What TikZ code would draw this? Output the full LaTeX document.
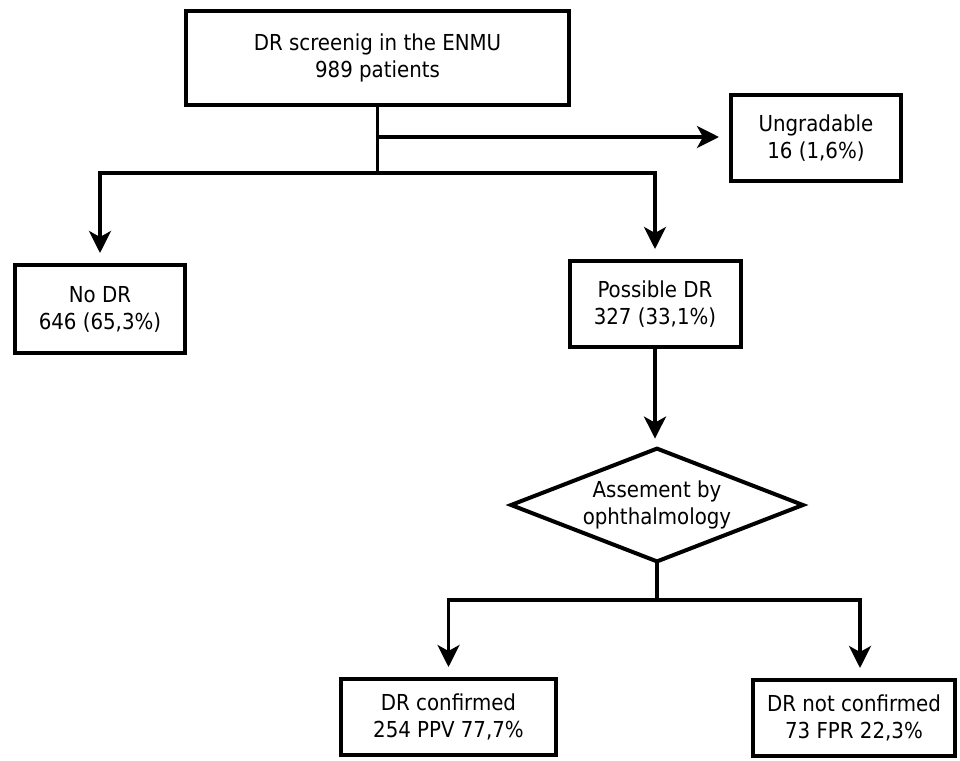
\documentclass[tikz,border=0pt]{standalone}
\usepackage{fontspec}
\setmainfont{DejaVu Sans Condensed}
\usetikzlibrary{arrows.meta}
\begin{document}
\begin{tikzpicture}[x=0.5pt,y=-0.5pt,
  box/.style={draw, line width=2pt, inner sep=0pt, align=center,
              font=\fontsize{11}{13.5}\selectfont},
  diamtext/.style={inner sep=0pt, align=center, font=\fontsize{11}{13.5}\selectfont},
  diamline/.style={line width=2pt, line join=miter},
  conn/.style={line width=1.75pt},
  arr/.style={conn, -{Stealth[length=11pt,width=11pt,inset=3pt]}, shorten >=5pt}]
\useasboundingbox[fill=white] (0,0) rectangle (960,761);
% nodes
\node[box, minimum width=191.5pt, minimum height=47pt] (top) at (377.5,58)
  {DR screenig in the ENMU\\989 patients};
\node[box, minimum width=85pt, minimum height=43pt] (ungr) at (816,138)
  {Ungradable\\16 (1,6\%)};
\node[box, minimum width=85pt, minimum height=44pt] (nodr) at (100,309)
  {No DR\\646 (65,3\%)};
\node[box, minimum width=85.5pt, minimum height=43pt] (poss) at (655,304)
  {Possible DR\\327 (33,1\%)};
\node[diamtext, minimum width=145.5pt, minimum height=56pt] (assess) at (657,505)
  {Assement by\\ophthalmology};
\draw[diamline] (assess.north) -- (assess.east) -- (assess.south) -- (assess.west) -- cycle;
\node[box, minimum width=107.5pt, minimum height=38pt] (conf) at (448.5,717)
  {DR confirmed\\254 PPV 77,7\%};
\node[box, minimum width=101pt, minimum height=38pt] (notc) at (854,718)
  {DR not confirmed\\73 FPR 22,3\%};
% junctions
\coordinate (j1) at (377.5,137);
\coordinate (j2) at (377.5,173);
\coordinate (j3) at (657,600);
\coordinate (rb) at (860,600);
% connectors
\draw[conn] (top.south) -- (j2);
\draw[arr] (j1) -- (j1 -| ungr.west);
\draw[arr] (j2) -| (nodr.north);
\draw[arr] (j2) -| (poss.north);
\draw[arr] (poss.south) -- (poss.south |- assess.north);
\draw[conn] (assess.south) -- (j3);
\draw[arr] (j3) -| (conf.north);
\draw[arr] (j3) -- (rb) -- (rb |- notc.north);
\end{tikzpicture}
\end{document}
